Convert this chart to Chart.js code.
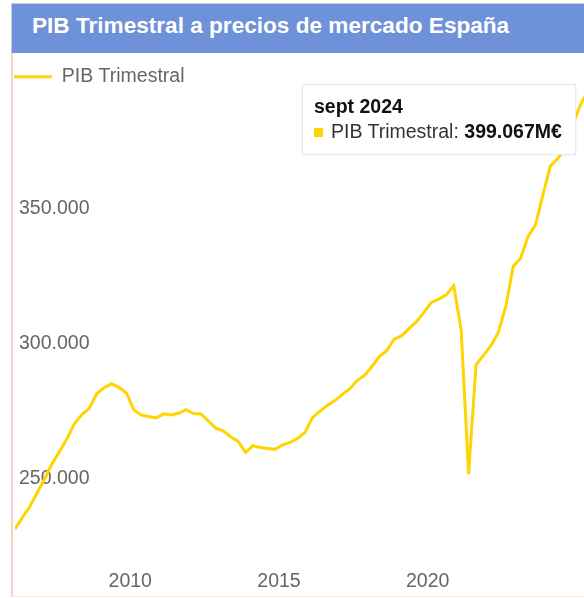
<!DOCTYPE html>
<html>
<head>
<meta charset="utf-8">
<title>PIB Trimestral</title>
<script src="https://cdn.jsdelivr.net/npm/chart.js@4.4.1/dist/chart.umd.min.js"></script>
<style>
  html, body { margin: 0; padding: 0; background: #fff; overflow: hidden; width: 584px; height: 598px; }
  #frame { position: absolute; left: 11px; top: 3px; width: 620px; }
  #title {
    height: 49px; background: #6f91d9; color: #fff;
    border-top: 1px solid #c9c9c9; border-left: 1px solid #c9c9c9;
    font: bold 22.6px "Liberation Sans", Arial, sans-serif; line-height: 44px;
    padding-left: 20px; white-space: nowrap;
  }
  #chartWrap { position: relative; width: 590px; height: 543px; border-left: 2px solid #f2d5ca; border-bottom: 1px solid #f7ebe5; }
  #tip {
    position: absolute; display: none; background: #fff; white-space: nowrap;
    border: 1px solid #e9e9e9; box-shadow: 0 0 3px rgba(0,0,0,0.06);
    padding: 10px 13px 11px 11px;
    font: 19.5px "Liberation Sans", Arial, sans-serif; color: #333;
  }
  #tip .t-title { font-weight: bold; color: #111; line-height: 23px; margin-bottom: 2px; }
  #tip .t-body { line-height: 23px; }
  #tip .sw { display: inline-block; width: 9px; height: 9px; background: #ffd400; margin-right: 8px; vertical-align: 1px; }
  #tip .val { color: #111; }
</style>
</head>
<body>
<div id="frame">
  <div id="title">PIB Trimestral a precios de mercado España</div>
  <div id="chartWrap">
    <canvas id="pibChart" width="590" height="543"></canvas>
    <div id="tip"><div class="t-title"></div><div class="t-body"><span class="sw"></span><span class="lbl"></span><b class="val"></b></div></div>
  </div>
</div>
<script>
// PIB trimestral, millones de euros (mar 2005 .. sept 2024)
const pibLabel = 'PIB Trimestral';
const quarterMonths = ['mar', 'jun', 'sept', 'dic'];
const firstYear = 2005;
const pib = [
    231400, 235700, 239700, 244900, 250100, 255600, 260100, 264900,
    270400, 273700, 276000, 281500, 283700, 285100, 283700, 281600,
    275400, 273500, 273000, 272500, 274000, 273600, 274200, 275500,
    274100, 273900, 271400, 268700, 267700, 265500, 263800, 259700,
    262200, 261500, 261200, 260900, 262500, 263400, 264900, 267100,
    272600, 274900, 277100, 278900, 281100, 283200, 286300, 288200,
    291500, 295200, 297400, 301700, 302800, 305500, 308100, 311500,
    315200, 316400, 318000, 321300, 305100, 251700, 292100, 295600,
    299200, 304100, 313700, 328500, 331500, 339600, 343900, 355000,
    365700, 368400, 372500, 381000, 388000, 393500, 399067
];
const xTickYears = [2010, 2015, 2020];
const yTickValues = [250000, 300000, 350000];

const quarters = [];
for (let i = 0; i < pib.length; i++) {
    quarters.push(quarterMonths[i % 4] + ' ' + (firstYear + Math.floor(i / 4)));
}

// the reference's year axis puts the first quarter at 2006.125
const axisStart = 2006.125;
const points = pib.map((v, i) => ({ x: axisStart + i / 4, y: v }));

function fmtMiles(v) {
    return Math.round(v).toString().replace(/\B(?=(\d{3})+(?!\d))/g, '.');
}

function drawTip(context) {
    const tip = document.getElementById('tip');
    const model = context.tooltip;
    if (model.opacity === 0 || !model.dataPoints || !model.dataPoints.length) {
        tip.style.display = 'none';
        return;
    }
    const dp = model.dataPoints[0];
    tip.querySelector('.t-title').textContent = quarters[dp.dataIndex];
    tip.querySelector('.lbl').textContent = dp.dataset.label + ': ';
    tip.querySelector('.val').textContent = fmtMiles(dp.parsed.y) + 'M€';
    tip.style.display = 'block';
    tip.style.left = (model.caretX - 19 - tip.offsetWidth) + 'px';
    tip.style.top = (model.caretY + 8) + 'px';
}

Chart.defaults.font.family = '"Liberation Sans", Arial, sans-serif';
Chart.defaults.font.size = 19.5;
Chart.defaults.color = '#666';

const chart = new Chart(document.getElementById('pibChart'), {
    type: 'line',
    data: {
        datasets: [{
            label: pibLabel,
            data: points,
            borderColor: '#ffd400',
            backgroundColor: '#ffd400',
            borderWidth: 3,
            pointRadius: 0,
            pointHoverRadius: 0,
            tension: 0,
            fill: false
        }]
    },
    options: {
        responsive: false,
        animation: false,
        layout: { padding: { top: 13, left: 0, right: 8, bottom: 0 } },
        plugins: {
            legend: {
                align: 'start',
                labels: {
                    usePointStyle: true,
                    pointStyle: 'line',
                    pointStyleWidth: 38,
                    padding: 1,
                    color: '#666'
                }
            },
            tooltip: { enabled: false, external: drawTip }
        },
        scales: {
            x: {
                type: 'linear',
                min: axisStart,
                max: axisStart + (pib.length - 1) / 4,
                grid: { display: false, drawTicks: false },
                border: { display: false },
                afterBuildTicks: function (axis) {
                    axis.ticks = xTickYears.map(v => ({ value: v }));
                },
                ticks: { padding: 3, callback: v => String(v) }
            },
            y: {
                min: 217500,
                max: 391340,
                grid: { display: false, drawTicks: false },
                border: { display: false },
                afterFit: function (axis) { axis.width = 2; },
                afterBuildTicks: function (axis) {
                    axis.ticks = yTickValues.map(v => ({ value: v }));
                },
                ticks: {
                    mirror: true,
                    padding: 4,
                    callback: v => fmtMiles(v)
                }
            }
        }
    }
});

chart.tooltip.setActiveElements([{ datasetIndex: 0, index: pib.length - 1 }], { x: 0, y: 0 });
chart.update();
</script>
</body>
</html>
